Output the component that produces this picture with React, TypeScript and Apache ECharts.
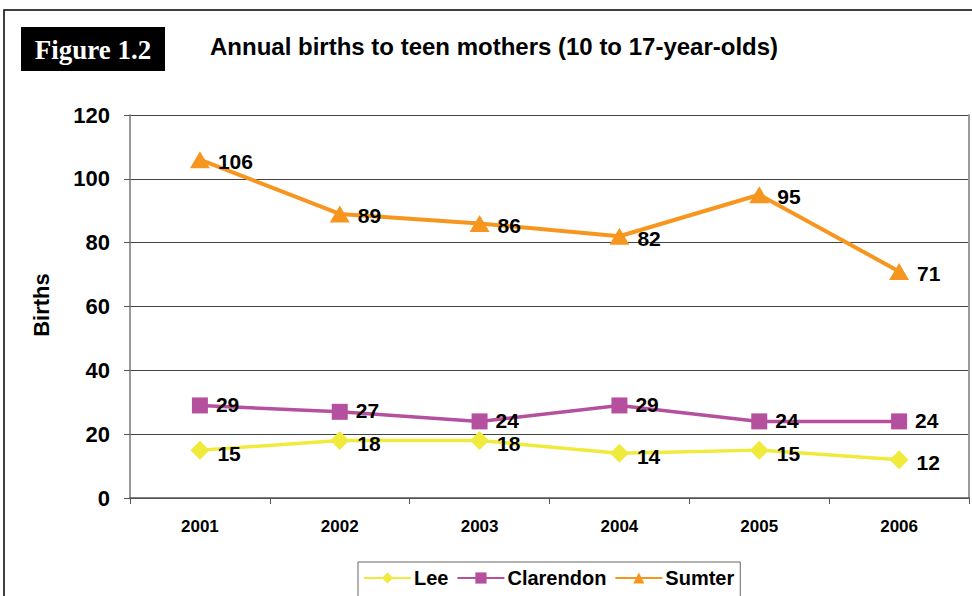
import React, { useEffect, useRef } from "react";
import * as echarts from "echarts";

const years = ["2001", "2002", "2003", "2004", "2005", "2006"];
const lee = [15, 18, 18, 14, 15, 12];
const clarendon = [29, 27, 24, 29, 24, 24];
const sumter = [106, 89, 86, 82, 95, 71];
const seriesNames = ["Lee", "Clarendon", "Sumter"];

const FONT = "Liberation Sans, Arial, sans-serif";

export default function App() {
  const ref = useRef<HTMLDivElement>(null);
  useEffect(() => {
    if (!ref.current) return;
    const chart = echarts.init(ref.current, undefined, { renderer: "svg" });
    const label = {
      show: true,
      position: "right" as const,
      distance: 8,
      offset: [0, 2],
      color: "#000",
      fontSize: 21,
      lineHeight: 18,
      fontWeight: "bold" as const,
      fontFamily: FONT,
    };
    chart.setOption({
      animation: false,
      backgroundColor: "#fff",
      grid: { left: 130, right: 3, top: 115, bottom: 98 },
      legend: {
        left: 358,
        top: 562,
        orient: "horizontal",
        data: seriesNames,
        borderColor: "#666",
        borderWidth: 1,
        padding: [6, 6, 12, 5],
        itemWidth: 47,
        itemHeight: 14,
        itemGap: 8,
        textStyle: { fontSize: 20, fontWeight: "bold", fontFamily: FONT, color: "#000", padding: [0, 0, 0, -2] },
      },
      xAxis: {
        type: "category",
        data: years,
        boundaryGap: true,
        axisLine: { lineStyle: { color: "#555", width: 1.5 } },
        axisTick: { show: true, length: 6, lineStyle: { color: "#555" } },
        axisLabel: { margin: 20, fontSize: 17, fontWeight: "bold", fontFamily: FONT, color: "#000" },
      },
      yAxis: [
        {
          type: "value",
          min: 0,
          max: 120,
          interval: 20,
          axisLine: { show: true, lineStyle: { color: "#777", width: 1.5 } },
          axisTick: { show: true, length: 6, lineStyle: { color: "#555" } },
          axisLabel: { margin: 20, fontSize: 22, fontWeight: "bold", fontFamily: FONT, color: "#000" },
          splitLine: { show: true, lineStyle: { color: "#444", width: 1 } },
        },
        {
          type: "value",
          position: "right",
          min: 0,
          max: 120,
          interval: 20,
          axisLine: { show: true, lineStyle: { color: "#999", width: 2 } },
          axisTick: { show: false },
          axisLabel: { show: false },
          splitLine: { show: false },
        },
      ],
      series: [
        {
          name: "Lee",
          type: "line",
          data: lee,
          color: "#F0EA3C",
          symbol: "diamond",
          symbolSize: 19,
          lineStyle: { width: 3.5, color: "#F0EA3C" },
          itemStyle: { color: "#F0EA3C" },
          label: { ...label, offset: [0, 3] },
          z: 3,
        },
        {
          name: "Clarendon",
          type: "line",
          data: clarendon,
          color: "#B5509E",
          symbol: "rect",
          symbolSize: 16,
          lineStyle: { width: 3.5, color: "#B5509E" },
          itemStyle: { color: "#B5509E" },
          label: { ...label, offset: [0, -1] },
          z: 4,
        },
        {
          name: "Sumter",
          type: "line",
          data: sumter,
          color: "#F7961F",
          symbol: "triangle",
          symbolSize: [20, 17],
          lineStyle: { width: 4, color: "#F7961F" },
          itemStyle: { color: "#F7961F" },
          label,
          z: 5,
        },
      ],
      graphic: [
        {
          type: "rect",
          shape: { x: 4, y: 10, width: 1000, height: 700 },
          style: { fill: "none", stroke: "#000", lineWidth: 1.5 },
          silent: true,
        },
        {
          type: "rect",
          shape: { x: 21, y: 27, width: 144, height: 44 },
          style: { fill: "#000" },
        },
        {
          type: "text",
          x: 93,
          y: 50,
          style: {
            text: "Figure 1.2",
            fill: "#fff",
            font: "bold 27px 'Liberation Serif', 'Times New Roman', serif",
            align: "center",
            verticalAlign: "middle",
          },
        },
        {
          type: "text",
          x: 210,
          y: 46,
          style: {
            text: "Annual births to teen mothers (10 to 17-year-olds)",
            fill: "#000",
            font: "bold 24px 'Liberation Sans', Arial, sans-serif",
            align: "left",
            verticalAlign: "middle",
          },
        },
        {
          type: "text",
          x: 41,
          y: 305,
          rotation: Math.PI / 2,
          style: {
            text: "Births",
            fill: "#000",
            font: "bold 22px 'Liberation Sans', Arial, sans-serif",
            align: "center",
            verticalAlign: "middle",
          },
        },
      ],
    });
    return () => chart.dispose();
  }, []);
  return (
    <div
      ref={ref}
      style={{ position: "fixed", left: 0, top: 0, width: 972, height: 596, background: "#fff" }}
    />
  );
}
